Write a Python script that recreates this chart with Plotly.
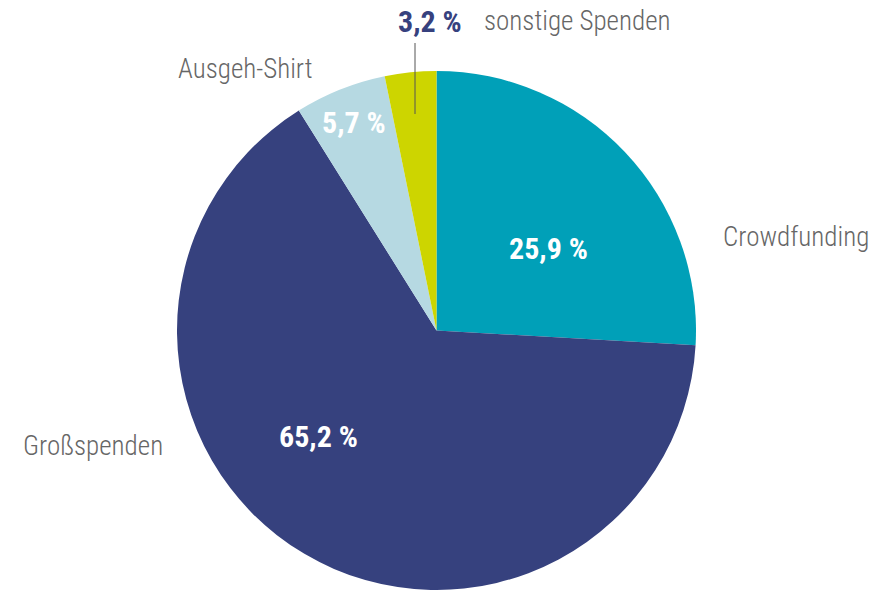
import plotly.graph_objects as go

W, H = 893, 590

categories = ["Crowdfunding", "Großspenden", "Ausgeh-Shirt", "sonstige Spenden"]
values = [25.9, 65.2, 5.7, 3.2]
pct_labels = ["25,9 %", "65,2 %", "5,7 %", "3,2 %"]
colors = ["#00A0B8", "#36417E", "#B6D9E2", "#CDD500"]

FONT = "Roboto Condensed, Liberation Sans Narrow, DejaVu Sans Condensed, Roboto, sans-serif"

cx, cy, R = 436.5, 330.5, 259.5

def px(x):
    return x / W

def py(y):
    return 1 - y / H

fig = go.Figure(go.Pie(
    labels=categories,
    values=values,
    sort=False,
    direction="clockwise",
    rotation=0,
    marker=dict(colors=colors, line=dict(width=0)),
    textinfo="none",
    hoverinfo="label+percent",
    showlegend=False,
    domain=dict(x=[px(cx - R), px(cx + R)], y=[py(cy + R), py(cy - R)]),
))

# label placement (pixel positions in the 893x590 canvas)
cat_pos = [(796, 237), (93, 446), (245, 69), (577, 21)]
pct_pos = [(548, 248), (318, 436), (354, 123), (430, 22)]
pct_colors = ["white", "white", "white", "#36417E"]

ann = []
for name, (x, y) in zip(categories, cat_pos):
    ann.append(dict(x=px(x), y=py(y), xref="paper", yref="paper", text=name,
                    showarrow=False, xanchor="center", yanchor="middle",
                    font=dict(family=FONT, size=27, color="#666666", weight=300)))
for t, (x, y), c in zip(pct_labels, pct_pos, pct_colors):
    ann.append(dict(x=px(x), y=py(y), xref="paper", yref="paper", text=t,
                    showarrow=False, xanchor="center", yanchor="middle",
                    font=dict(family=FONT, size=30, color=c, weight=700)))

fig.update_layout(
    width=W, height=H,
    margin=dict(l=0, r=0, t=0, b=0),
    paper_bgcolor="white",
    plot_bgcolor="white",
    annotations=ann,
    shapes=[dict(type="line", xref="paper", yref="paper",
                 x0=px(415), x1=px(415), y0=py(43), y1=py(114),
                 line=dict(color="#555555", width=1))],
)

fig.write_html("out.html")
